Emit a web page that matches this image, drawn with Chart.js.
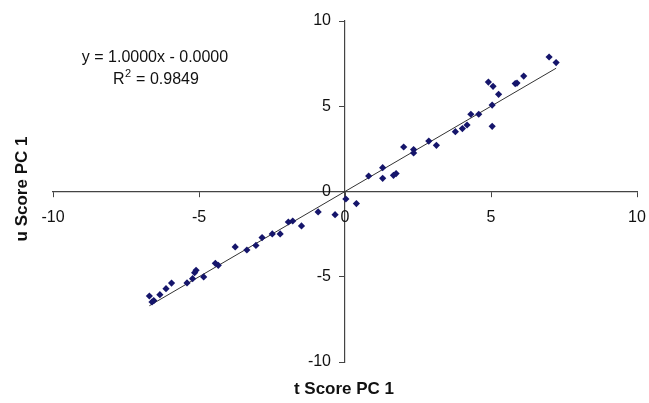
<html>
<head>
<script src="https://cdn.jsdelivr.net/npm/chart.js"></script>
<style>
  body { margin: 0; background: #fff; }
  #wrap { position: relative; width: 649px; height: 403px; }
</style>
</head>
<body>
<div id="wrap"><canvas id="myChart" width="649" height="403"></canvas></div>

<script>
// t score (x) and u score (y), PC 1
const tScore = [0.81, 1.29, 1.29, 1.66, 1.75, 2.01, 2.35, 2.35, 2.87, 3.13,
  3.78, 4.02, 4.18, 4.31, 4.58, 4.91, 5.07, 5.04, 5.04, 5.26,
  5.83, 5.89, 6.12, 6.99, 7.23, 0.03, 0.39, -0.34, -0.92, -1.49,
  -1.79, -1.94, -2.22, -2.49, -2.84, -3.05, -3.36, -3.76, -4.34, -4.44,
  -4.84, -5.10, -5.15, -5.22, -5.41, -5.94, -6.13, -6.34, -6.70, -6.61, -6.55];
const uScore = [0.91, 1.40, 0.77, 0.95, 1.05, 2.61, 2.46, 2.26, 2.96, 2.71,
  3.51, 3.69, 3.90, 4.53, 4.53, 6.42, 6.17, 5.07, 3.82, 5.70,
  6.33, 6.36, 6.77, 7.89, 7.56, -0.44, -0.71, -1.36, -1.20, -2.02,
  -1.73, -1.79, -2.49, -2.49, -2.70, -3.16, -3.43, -3.25, -4.33, -4.21,
  -5.01, -4.62, -4.76, -5.11, -5.36, -5.37, -5.70, -6.05, -6.13, -6.48, -6.40];

// fitted line y = 1.0000x - 0.0000 over the data range
const trendX = [-6.70, 7.23];
const trendY = [-6.70, 7.23];

const axisTicks = [-10, -5, 0, 5, 10];
const eqText = 'y = 1.0000x - 0.0000';
const r2Value = '0.9849';

const points = tScore.map((t, i) => ({x: t, y: uScore[i]}));
const trend = trendX.map((t, i) => ({x: t, y: trendY[i]}));

const FONT = '"Liberation Sans", Arial, sans-serif';

// tick labels sit next to the centred axes, titles at the canvas edges
const labelsPlugin = {
  id: 'labels',
  afterDraw(chart) {
    const ctx = chart.ctx;
    const xs = chart.scales.x, ys = chart.scales.y;
    const x0 = xs.getPixelForValue(0), y0 = ys.getPixelForValue(0);

    ctx.save();
    ctx.fillStyle = '#111';
    ctx.font = '16px ' + FONT;
    ctx.textBaseline = 'middle';
    ctx.textAlign = 'center';
    axisTicks.forEach(v => ctx.fillText(String(v), xs.getPixelForValue(v), y0 + 26));
    ctx.textAlign = 'right';
    axisTicks.forEach(v => ctx.fillText(String(v), x0 - 14, ys.getPixelForValue(v)));
    ctx.restore();

    ctx.save();
    ctx.fillStyle = '#111';
    ctx.textAlign = 'center';
    ctx.textBaseline = 'middle';
    ctx.font = 'bold 17px ' + FONT;
    ctx.fillText('t Score PC 1', 344, 389);
    ctx.translate(22, 189);
    ctx.rotate(-Math.PI / 2);
    ctx.fillText('u Score PC 1', 0, 0);
    ctx.restore();

    // equation + R squared
    ctx.save();
    ctx.fillStyle = '#111';
    ctx.textBaseline = 'middle';
    ctx.font = '16px ' + FONT;
    ctx.textAlign = 'center';
    ctx.fillText(eqText, 155, 58);
    ctx.textAlign = 'left';
    let xp = 113;
    ctx.fillText('R', xp, 80);
    xp += ctx.measureText('R').width;
    ctx.font = '11px ' + FONT;
    ctx.fillText('2', xp + 0.5, 74);
    xp += ctx.measureText('2').width + 1;
    ctx.font = '16px ' + FONT;
    ctx.fillText(' = ' + r2Value, xp, 80);
    ctx.restore();
  }
};

const scaleCommon = {
  type: 'linear',
  min: -10,
  max: 10,
  afterBuildTicks: (scale) => { scale.ticks = axisTicks.map(v => ({value: v})); },
  grid: {
    drawOnChartArea: false,
    drawTicks: true,
    tickLength: 5,
    color: '#444',
    lineWidth: 1
  },
  border: { display: true, color: '#444', width: 1.2 },
  ticks: { display: false }
};

new Chart(document.getElementById('myChart'), {
  type: 'scatter',
  data: {
    datasets: [{
      label: 'scores',
      data: points,
      pointStyle: 'rectRot',
      pointRadius: 3.6,
      backgroundColor: '#15156b',
      borderColor: '#15156b',
      borderWidth: 0
    }, {
      label: 'trend',
      type: 'line',
      data: trend,
      borderColor: '#333',
      borderWidth: 1,
      pointRadius: 0,
      fill: false
    }]
  },
  options: {
    responsive: false,
    animation: false,
    layout: { padding: { left: 53, right: 12, top: 21, bottom: 41 } },
    plugins: {
      legend: { display: false },
      tooltip: { enabled: false }
    },
    scales: {
      x: Object.assign({}, scaleCommon, { position: { y: 0 } }),
      y: Object.assign({}, scaleCommon, { position: { x: 0 } })
    }
  },
  plugins: [labelsPlugin]
});
</script>
</body>
</html>
